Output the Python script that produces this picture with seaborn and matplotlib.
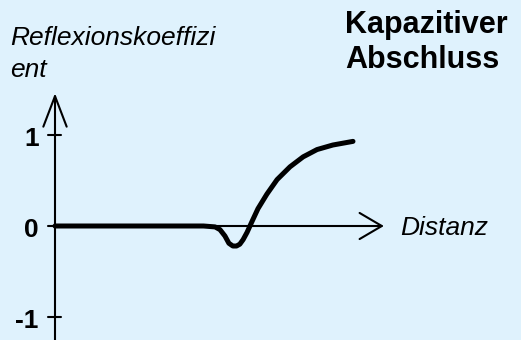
import numpy as np
import pandas as pd
import matplotlib
matplotlib.use('Agg')
import matplotlib.pyplot as plt
import seaborn as sns

# Kurve: Reflexionskoeffizient über der Distanz (kapazitiver Abschluss)
distanz = [0, 3.6, 4.5, 4.85, 5.0, 5.15, 5.27, 5.39, 5.5, 5.6, 5.7, 5.82, 5.97,
           6.15, 6.42, 6.73, 7.12, 7.52, 7.94, 8.42, 9.03]
reflexion = [0, 0, 0, -0.01, -0.04, -0.11, -0.19, -0.22, -0.22, -0.2, -0.15, -0.07, 0.05,
             0.19, 0.35, 0.51, 0.65, 0.76, 0.84, 0.89, 0.93]
y_ticks = [1, 0, -1]
y_tick_labels = ['1', '0', '-1']

sns.set_theme(style='white')
plt.rcParams['font.family'] = ['Liberation Sans', 'DejaVu Sans']

bg = '#dff2fd'
fig = plt.figure(figsize=(5.21, 3.40), dpi=100, facecolor=bg)
ax = fig.add_axes([0, 0, 1, 1], facecolor=bg)
ax.set_xlim(-55 / 33, 466 / 33)
ax.set_ylim(-114 / 91, 226 / 91)
ax.axis('off')

df = pd.DataFrame({'distanz': distanz, 'reflexion': reflexion})
sns.lineplot(data=df, x='distanz', y='reflexion', sort=False, color='black',
             linewidth=3.6, ax=ax, solid_capstyle='round', solid_joinstyle='round')

# Achsen mit offenen Pfeilspitzen
ax.annotate('', xy=(0, 1.49), xytext=(0, -1.3),
            arrowprops=dict(arrowstyle='->,head_length=1.1,head_width=0.42',
                            mutation_scale=20, lw=1.5, color='black'))
ax.annotate('', xy=(10.05, 0), xytext=(0, 0),
            arrowprops=dict(arrowstyle='->,head_length=0.8,head_width=0.47',
                            mutation_scale=20, lw=1.5, color='black'))

# Teilstriche und Beschriftungen
for t, lab in zip(y_ticks, y_tick_labels):
    ax.plot([-0.2, 0.17], [t, t], color='black', lw=1.5)
    ax.text(-0.5, t - 0.12, lab, ha='right', va='baseline', fontsize=19,
            fontweight='bold', color='black')

ax.text(10.45, -0.1, 'Distanz', ha='left', va='baseline', fontsize=19,
        style='italic', color='black')
fig.text(10 / 521, 1 - 45 / 340, 'Reflexionskoeffizi', ha='left', va='baseline',
         fontsize=19, style='italic', color='black')
fig.text(10 / 521, 1 - 77 / 340, 'ent', ha='left', va='baseline',
         fontsize=19, style='italic', color='black')
fig.text(345 / 521, 1 - 33 / 340, 'Kapazitiver', ha='left', va='baseline',
         fontsize=22, fontweight='bold', color='black')
fig.text(345 / 521, 1 - 68 / 340, 'Abschluss', ha='left', va='baseline',
         fontsize=22, fontweight='bold', color='black')

fig.savefig('out.png', dpi=100, facecolor=bg)
